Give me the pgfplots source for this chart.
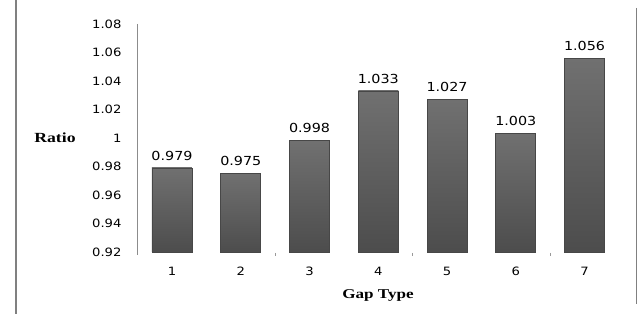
\documentclass[border=0pt]{standalone}
\usepackage{pgfplots}
\pgfplotsset{compat=1.18}
\usepackage{fontspec}
\setmainfont{Liberation Serif}
\newfontfamily\numfont[FakeStretch=1.15]{DejaVu Sans}
\newfontfamily\labfont[FakeStretch=1.27]{Liberation Serif}
\pgfplotsset{onebar/.style={draw=black!72, line width=0.8bp, top color=black!56, bottom color=black!70, bar shift=0pt}}
\begin{document}
\begin{tikzpicture}
\path[use as bounding box] (0bp,0bp) rectangle (644bp,314bp);
\begin{axis}[
  at={(137bp,62bp)}, anchor=south west,
  scale only axis, width=481.9bp, height=228bp,
  xmin=0.491, xmax=7.5, ymin=0.92, ymax=1.08,
  ybar, bar width=40bp,
  axis line style={draw=none},
  xtick pos=bottom, ytick pos=left,
  xtick={1,2,3,4,5,6,7},
  xticklabels={1,2,3,4,5,6,7},
  ytick={0.92,0.94,0.96,0.98,1,1.02,1.04,1.06,1.08},
  yticklabels={0.92,0.94,0.96,0.98,1,1.02,1.04,1.06,1.08},
  major tick style={draw=none},
  xticklabel style={font=\numfont\fontsize{11.5}{13}\selectfont, yshift=-7bp, overlay},
  yticklabel style={font=\numfont\fontsize{11.5}{13}\selectfont, xshift=-12bp, overlay},
  xlabel={Gap Type}, ylabel={Ratio},
  every axis x label/.style={at={(rel axis cs:0.5,0)}, anchor=center, yshift=-43bp, overlay, font=\labfont\bfseries\fontsize{13.5}{15}\selectfont},
  every axis y label/.style={at={(rel axis cs:0,0.5)}, anchor=center, xshift=-82bp, overlay, font=\labfont\bfseries\fontsize{14}{16}\selectfont},
  point meta=explicit symbolic,
  nodes near coords,
  every node near coord/.append style={font=\numfont\fontsize{12.5}{14}\selectfont, black, yshift=4bp, overlay},
  clip=false,
]
\addplot[onebar] coordinates {(1,0.979) [0.979]};
\addplot[onebar] coordinates {(2,0.975) [0.975]};
\addplot[onebar] coordinates {(3,0.998) [0.998]};
\addplot[onebar] coordinates {(4,1.033) [1.033]};
\addplot[onebar] coordinates {(5,1.027) [1.027]};
\addplot[onebar] coordinates {(6,1.003) [1.003]};
\addplot[onebar] coordinates {(7,1.056) [1.056]};
\draw[black!45, line width=0.8bp, overlay] (rel axis cs:0,1) -- ([yshift=-3bp]rel axis cs:0,0);
\draw[black!40, line width=0.9bp, overlay] ([yshift=-1bp]axis cs:2.5,0.92) -- ([yshift=-4.5bp]axis cs:2.5,0.92);
\draw[black!40, line width=0.9bp, overlay] ([yshift=-1bp]axis cs:4.5,0.92) -- ([yshift=-4.5bp]axis cs:4.5,0.92);
\draw[black!40, line width=0.9bp, overlay] ([yshift=-1bp]axis cs:6.5,0.92) -- ([yshift=-4.5bp]axis cs:6.5,0.92);
\end{axis}
\draw[black!50,line width=1.3bp] (16bp,314bp) -- (16bp,0bp);
\draw[black!50,line width=1.3bp] (636.5bp,306bp) -- (636.5bp,10bp);
\end{tikzpicture}
\end{document}
